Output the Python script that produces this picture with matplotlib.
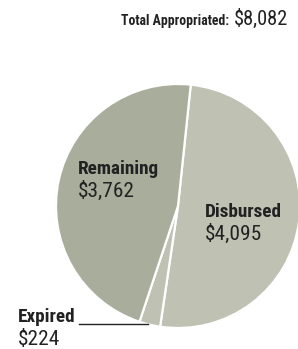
import matplotlib
matplotlib.use("Agg")
import matplotlib.pyplot as plt
from matplotlib import font_manager as fm

# values in $ (from the chart)
labels = ["Disbursed", "Expired", "Remaining"]
amounts = [4095, 224, 3762]
colors = ["#bfc1b3", "#bfc1b3", "#a9ad9b"]
value_labels = ["$4,095", "$224", "$3,762"]
total_label = "$8,082"

# pick a condensed family that has a real bold
weights = {}
for f in fm.fontManager.ttflist:
    weights.setdefault(f.name, set()).add(f.weight)
FONT = ["DejaVu Sans"]
BOLD = "bold"
for cand in ["Roboto Condensed", "Fira Sans Condensed", "IBM Plex Sans Condensed",
             "PT Sans Narrow", "Barlow Semi Condensed"]:
    w = weights.get(cand, set())
    if 400 in w and 700 in w:
        FONT = [cand, "DejaVu Sans"]
        BOLD = 600 if 600 in w else 700
        break

W, H = 298, 349
INK = "#222222"
fig = plt.figure(figsize=(W / 100, H / 100), dpi=100)
ax = fig.add_axes([0, 0, 1, 1])

ax.pie(amounts, colors=colors, startangle=84, counterclock=False,
       center=(178, H - 206), radius=122,
       wedgeprops=dict(edgecolor="white", linewidth=1.6))
ax.set_xlim(0, W)
ax.set_ylim(0, H)
ax.set_aspect("equal")
ax.axis("off")

fig.canvas.draw()
renderer = fig.canvas.get_renderer()


def fit(t, width):
    # scale the font so the text spans about `width` pixels
    for _ in range(3):
        w = t.get_window_extent(renderer).width
        t.set_fontsize(t.get_fontsize() * width / w)
    return t.get_fontsize()


def size_for(text, width, weight):
    probe = ax.text(0, 0, text, fontsize=12, fontweight=weight, family=FONT)
    s = fit(probe, width)
    probe.remove()
    return s


# title: bold part + regular amount
ts = size_for("Total Appropriated:", 108, BOLD)
ax.text(121, H - 25, "Total Appropriated:", fontsize=ts, fontweight=BOLD,
        family=FONT, color=INK, va="baseline")
ax.text(288, H - 25, total_label, fontsize=size_for(total_label, 54, "normal"),
        family=FONT, color=INK, va="baseline", ha="right")

ns = size_for(labels[2], 81, BOLD)
vs = size_for(value_labels[2], 57, "normal")


def label(x, y, name, value):
    ax.text(x, H - y, name, fontsize=ns, fontweight=BOLD, family=FONT,
            color=INK, va="baseline")
    ax.text(x, H - y - 23, value, fontsize=vs, family=FONT,
            color=INK, va="baseline")


label(78, 174, labels[2], value_labels[2])
label(205, 217, labels[0], value_labels[0])
label(18, 322, labels[1], value_labels[1])

# leader line for the small slice
ax.plot([79, 148], [H - 324, H - 324], color=INK, linewidth=1)

fig.savefig("out.png", dpi=100)
